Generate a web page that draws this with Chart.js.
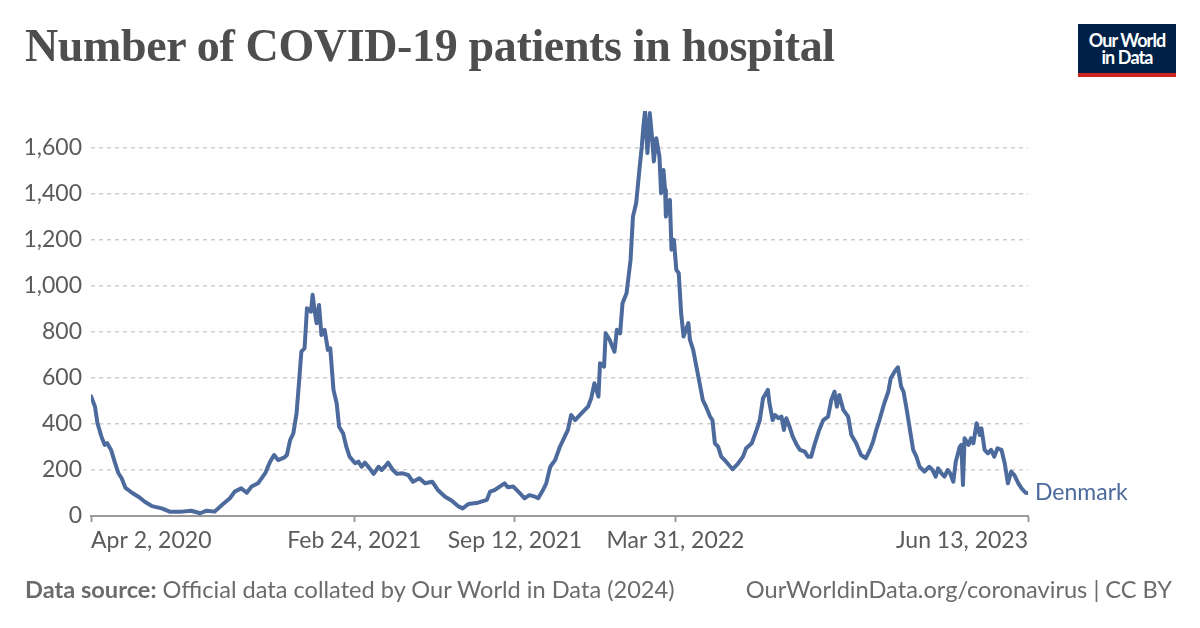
<!DOCTYPE html>
<html>
<head>
<meta charset="utf-8">
<script src="https://cdn.jsdelivr.net/npm/chart.js@4.4.1/dist/chart.umd.min.js"></script>
<style>
  html, body { margin: 0; padding: 0; background: #fff; }
  #wrap { position: relative; width: 1200px; height: 628px; overflow: hidden; }
  #title {
    position: absolute; left: 25px; top: 19px; margin: 0;
    font-family: "Liberation Serif", "DejaVu Serif", serif; font-weight: 700;
    font-size: 46px; color: #4e4e4e; letter-spacing: -0.35px; white-space: nowrap;
  }
  #logo {
    position: absolute; left: 1078px; top: 24px; width: 98px; height: 53px;
    background: #002147; border-bottom: 4px solid #ce261e; box-sizing: border-box;
    color: #fff; font-family: Lato, sans-serif; font-weight: 700; font-size: 18px;
    line-height: 17px; text-align: center; padding-top: 8px; letter-spacing: -0.9px;
  }
  .foot {
    position: absolute; top: 575px; font-family: Lato, sans-serif; font-size: 23.6px;
    color: #6b6b6b; white-space: nowrap;
  }
  #src { left: 25px; }
  #lic { right: 28px; }
  canvas { position: absolute; left: 0; top: 0; }
</style>
</head>
<body>
<div id="wrap">
  <canvas id="chart" width="1200" height="628"></canvas>
  <h1 id="title">Number of COVID-19 patients in hospital</h1>
  <div id="logo">Our World<br>in Data</div>
  <div class="foot" id="src"><b>Data source:</b> Official data collated by Our World in Data (2024)</div>
  <div class="foot" id="lic">OurWorldinData.org/coronavirus | CC BY</div>
</div>
<script>
// days since 2020-04-02
const days = [
  0, 5, 8, 13, 17, 20, 25, 30, 34, 38, 43, 51, 59, 67, 76, 88, 98, 113, 125, 136,
  144, 154, 163, 173, 179, 187, 194, 200, 208, 217, 223, 228, 233, 241, 244, 248, 252, 256, 259, 262,
  266, 269, 274, 276, 279, 281, 284, 287, 291, 295, 298, 302, 306, 309, 314, 318, 322, 329, 333, 337,
  341, 347, 352, 358, 362, 366, 370, 376, 381, 387, 395, 401, 409, 416, 425, 432, 441, 449, 457, 463,
  470, 482, 493, 497, 503, 509, 515, 519, 526, 534, 540, 546, 553, 557, 563, 567, 572, 578, 584, 590,
  594, 598, 603, 609, 615, 619, 623, 627, 632, 634, 639, 641, 646, 652, 655, 659, 662, 667, 672, 675,
  679, 683, 686, 688, 690, 693, 696, 699, 701, 704, 708, 710, 713, 715, 716, 721, 723, 726, 729, 732,
  735, 738, 744, 746, 750, 754, 758, 762, 766, 771, 774, 777, 781, 785, 791, 799, 806, 812, 816, 823,
  829, 833, 837, 843, 845, 849, 852, 856, 860, 863, 866, 870, 874, 879, 883, 889, 893, 897, 901, 907,
  912, 918, 922, 926, 929, 932, 937, 943, 947, 953, 959, 965, 970, 974, 978, 982, 988, 993, 996, 1001,
  1005, 1009, 1012, 1016, 1020, 1024, 1028, 1032, 1038, 1044, 1048, 1052, 1055, 1059, 1063, 1067, 1070, 1074, 1077, 1082,
  1084, 1086, 1088, 1093, 1096, 1099, 1103, 1107, 1109, 1113, 1117, 1121, 1125, 1129, 1134, 1138, 1142, 1146, 1150, 1155,
  1159, 1164, 1167
];
const patients = [
  520, 475, 404, 345, 309, 317, 287, 230, 187, 165, 122, 101, 84, 62, 43, 33, 19, 19, 23, 12,
  23, 19, 48, 77, 106, 120, 101, 128, 142, 186, 236, 265, 243, 255, 265, 330, 359, 446, 577, 714,
  729, 903, 888, 961, 881, 838, 917, 787, 809, 722, 729, 548, 490, 388, 359, 301, 258, 229, 236, 214,
  232, 207, 183, 214, 200, 214, 232, 200, 183, 186, 178, 149, 164, 142, 149, 113, 84, 67, 43, 33,
  52, 58, 70, 106, 113, 128, 142, 125, 128, 99, 77, 91, 84, 77, 113, 142, 214, 243, 301, 345,
  374, 439, 417, 439, 461, 475, 512, 577, 519, 664, 649, 794, 765, 714, 809, 794, 925, 968, 1113, 1301,
  1360, 1504, 1606, 1693, 1758, 1577, 1751, 1635, 1541, 1642, 1562, 1403, 1504, 1417, 1301, 1374, 1157, 1200, 1070, 1055,
  881, 780, 838, 765, 722, 649, 577, 504, 475, 432, 417, 316, 301, 258, 236, 203, 229, 258, 294, 316,
  374, 417, 512, 548, 490, 417, 439, 425, 432, 374, 425, 388, 345, 309, 287, 280, 258, 258, 309, 374,
  417, 432, 504, 540, 475, 526, 461, 432, 352, 316, 265, 251, 287, 323, 374, 417, 490, 540, 598, 628,
  646, 562, 540, 461, 374, 287, 258, 214, 193, 214, 200, 171, 207, 186, 171, 200, 186, 149, 236, 301,
  309, 135, 338, 309, 338, 316, 403, 352, 381, 287, 272, 287, 258, 294, 287, 229, 142, 193, 178, 142,
  120, 101, 100
];
const tickDays = [0, 328, 528, 728, 1167];
const tickLabels = ["Apr 2, 2020", "Feb 24, 2021", "Sep 12, 2021", "Mar 31, 2022", "Jun 13, 2023"];
const yTicks = [0, 200, 400, 600, 800, 1000, 1200, 1400, 1600];
const seriesName = "Denmark";

const lineColor = "#4c6a9c";
const textColor = "#5b5b5b";

const endLabel = {
  id: "endLabel",
  afterDatasetsDraw(chart) {
    const { ctx, scales } = chart;
    const x = scales.x.getPixelForValue(days[days.length - 1]);
    const y = scales.y.getPixelForValue(patients[patients.length - 1]);
    ctx.save();
    ctx.font = "23px Lato";
    ctx.fillStyle = lineColor;
    ctx.textBaseline = "middle";
    ctx.fillText(seriesName, x + 7, y);
    ctx.restore();
  }
};

new Chart(document.getElementById("chart"), {
  type: "line",
  data: {
    datasets: [{
      label: seriesName,
      data: days.map((d, i) => ({ x: d, y: patients[i] })),
      borderColor: lineColor,
      borderWidth: 4,
      pointRadius: 0,
      tension: 0,
      borderJoinStyle: "round",
      borderCapStyle: "round"
    }]
  },
  options: {
    responsive: false,
    animation: false,
    layout: { padding: { left: 0, right: 172, top: 111, bottom: 0 } },
    plugins: { legend: { display: false }, tooltip: { enabled: false } },
    scales: {
      x: {
        type: "linear",
        min: 0,
        max: 1167,
        afterFit: s => { s.height = 112; },
        afterBuildTicks: s => { s.ticks = tickDays.map(v => ({ value: v })); },
        ticks: {
          align: "inner",
          maxRotation: 0,
          autoSkip: false,
          padding: 5,
          color: textColor,
          font: { family: "Lato", size: 23 },
          callback: v => tickLabels[tickDays.indexOf(v)]
        },
        grid: { drawOnChartArea: false, tickLength: 6, tickColor: "#9a9a9a", tickWidth: 2 },
        border: { display: true, color: "#9a9a9a", width: 2 }
      },
      y: {
        type: "linear",
        min: 0,
        max: 1760,
        afterFit: s => { s.width = 91; },
        afterBuildTicks: s => { s.ticks = yTicks.map(v => ({ value: v })); },
        ticks: {
          autoSkip: false,
          padding: 9,
          color: textColor,
          font: { family: "Lato", size: 23 },
          callback: v => v.toLocaleString("en-US")
        },
        grid: { color: "#d0d0d0", lineWidth: 1.5, drawTicks: false, tickLength: 0 },
        border: { display: false, dash: [4, 4] }
      }
    }
  },
  plugins: [endLabel]
});
</script>
</body>
</html>
